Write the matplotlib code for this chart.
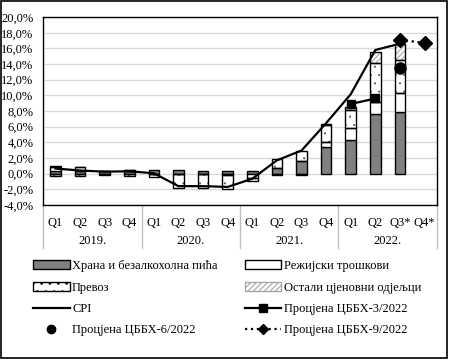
import matplotlib.pyplot as plt
import matplotlib.patches as mpatches
import matplotlib.lines as mlines
import numpy as np

plt.rcParams['font.family'] = ['Liberation Serif', 'DejaVu Serif']
plt.rcParams['font.size'] = 9
plt.rcParams['hatch.linewidth'] = 0.8

quarters = ['Q1', 'Q2', 'Q3', 'Q4', 'Q1', 'Q2', 'Q3', 'Q4',
            'Q1', 'Q2', 'Q3', 'Q4', 'Q1', 'Q2', 'Q3*', 'Q4*']
years = ['2019.', '2020.', '2021.', '2022.']

# contributions, percentage points (Q4* has no bar)
food = [0.3, 0.3, 0.3, 0.35, 0.4, 0.4, 0.35, 0.3, 0.35, 0.75, 1.65, 3.35, 4.3, 7.6, 7.9, np.nan]
utilities = [0.6, 0.55, 0.05, 0.05, -0.1, -0.1, -0.1, -0.15, -0.5, -0.15, -0.2, 0.75, 1.5, 1.5, 2.4, np.nan]
transport = [-0.3, -0.35, -0.2, -0.3, -0.3, -1.8, -1.8, -1.8, -0.5, 1.1, 1.3, 2.1, 2.35, 5.0, 4.2, np.nan]
other = [0.1, 0.05, 0.0, 0.05, 0.0, 0.0, 0.0, 0.0, 0.0, 0.0, 0.0, 0.2, 0.3, 1.5, 2.0, np.nan]

cpi = [0.65, 0.4, 0.25, 0.3, 0.05, -1.6, -1.6, -1.7, -0.65, 1.7, 2.95, 6.45, 10.15, 15.8, 16.6, np.nan]
est_3 = [np.nan] * 12 + [8.9, 9.6, np.nan, np.nan]
est_6 = [np.nan] * 14 + [13.5, np.nan]
est_9 = [np.nan] * 14 + [17.1, 16.7]

fig = plt.figure(figsize=(4.49, 3.64), dpi=100)
ax = fig.add_axes([0.096, 0.437, 0.877, 0.516])

x = np.arange(len(quarters))
width = 0.43

pos_bottom = np.zeros(len(x))
neg_bottom = np.zeros(len(x))
styles = [
    dict(color='#808080'),
    dict(color='white'),
    dict(color='white', hatch='..', hatch_ec='#555555', hlw=0.3),
    dict(color='white', hatch='//////', hatch_ec='#a6a6a6', hlw=0.8),
]
for vals, st in zip([food, utilities, transport, other], styles):
    v = np.nan_to_num(np.array(vals, dtype=float))
    bottom = np.where(v >= 0, pos_bottom, neg_bottom)
    mask = np.array([not np.isnan(a) for a in vals]) & (v != 0)
    if 'hatch' in st:
        with plt.rc_context({'hatch.linewidth': st['hlw']}):
            ax.bar(x[mask], v[mask], width, bottom=bottom[mask], color='white',
                   edgecolor=st['hatch_ec'], hatch=st['hatch'], linewidth=0, zorder=2)
        ax.bar(x[mask], v[mask], width, bottom=bottom[mask], fill=False,
               edgecolor='black', linewidth=1.0, zorder=3)
    else:
        ax.bar(x[mask], v[mask], width, bottom=bottom[mask], color=st['color'],
               edgecolor='black', linewidth=1.0, zorder=3)
    pos_bottom = pos_bottom + np.where(v > 0, v, 0)
    neg_bottom = neg_bottom + np.where(v < 0, v, 0)

ax.plot(x, cpi, color='black', lw=1.6, zorder=4)
ax.plot(x, est_3, color='black', lw=1.6, marker='s', ms=6, zorder=5)
ax.plot(x, est_6, color='black', ls='none', marker='o', ms=8, zorder=5)
ax.plot(x, est_9, color='black', lw=1.6, ls=':', marker='D', ms=7, zorder=5)

ax.set_xlim(-0.5, 15.5)
ax.set_ylim(-4, 20)
ax.set_yticks(np.arange(-4, 21, 2))
ax.set_yticklabels(['{:.1f}%'.format(t).replace('.', ',') for t in np.arange(-4, 21, 2)])
ax.yaxis.grid(True, color='#d9d9d9', lw=1.0)
ax.set_axisbelow(True)
ax.tick_params(axis='y', length=0, pad=7)
ax.set_xticks(x)
ax.set_xticklabels(quarters)
ax.tick_params(axis='x', length=0, pad=9)
for s in ax.spines.values():
    s.set_color('black')
    s.set_linewidth(1.0)

trans = ax.get_xaxis_transform()
for i, yr in enumerate(years):
    ax.text(4 * i + 1.5, -0.19, yr, transform=trans, ha='center', va='center')
for b in [-0.5, 3.5, 7.5, 11.5, 15.5]:
    ax.plot([b, b], [0, -0.23], transform=trans, color='#bfbfbf', lw=1.0, clip_on=False)

h_food = mpatches.Patch(facecolor='#808080', edgecolor='black', lw=1.0)
h_util = mpatches.Patch(facecolor='white', edgecolor='black', lw=1.0)
with plt.rc_context({'hatch.linewidth': 0.3}):
    h_trans = mpatches.Patch(facecolor='white', edgecolor='black', hatch='..', lw=1.0)
h_other = mpatches.Patch(facecolor='white', edgecolor='#a6a6a6', hatch='//////', lw=1.0)
h_cpi = mlines.Line2D([], [], color='black', lw=1.6)
h_3 = mlines.Line2D([], [], color='black', lw=1.6, marker='s', ms=6)
h_6 = mlines.Line2D([], [], color='black', ls='none', marker='o', ms=6)
h_9 = mlines.Line2D([], [], color='black', lw=1.6, ls=':', marker='D', ms=5)

handles = [h_food, h_trans, h_cpi, h_6, h_util, h_other, h_3, h_9]
labels = ['Храна и безалкохолна пића', 'Превоз', 'CPI', 'Процјена ЦББХ-6/2022',
          'Режијски трошкови', 'Остали цјеновни одјељци', 'Процјена ЦББХ-3/2022',
          'Процјена ЦББХ-9/2022']
fig.legend(handles, labels, ncol=2, loc='upper left', bbox_to_anchor=(0.049, 0.316),
           frameon=False, handlelength=2.9, handletextpad=0.2, columnspacing=2.2,
           labelspacing=0.75)

fig.patches.append(mpatches.Rectangle((0.002, 0.016), 0.994, 0.981, transform=fig.transFigure,
                                      fill=False, edgecolor='black', lw=1.2))

fig.savefig('out.png', dpi=100)
